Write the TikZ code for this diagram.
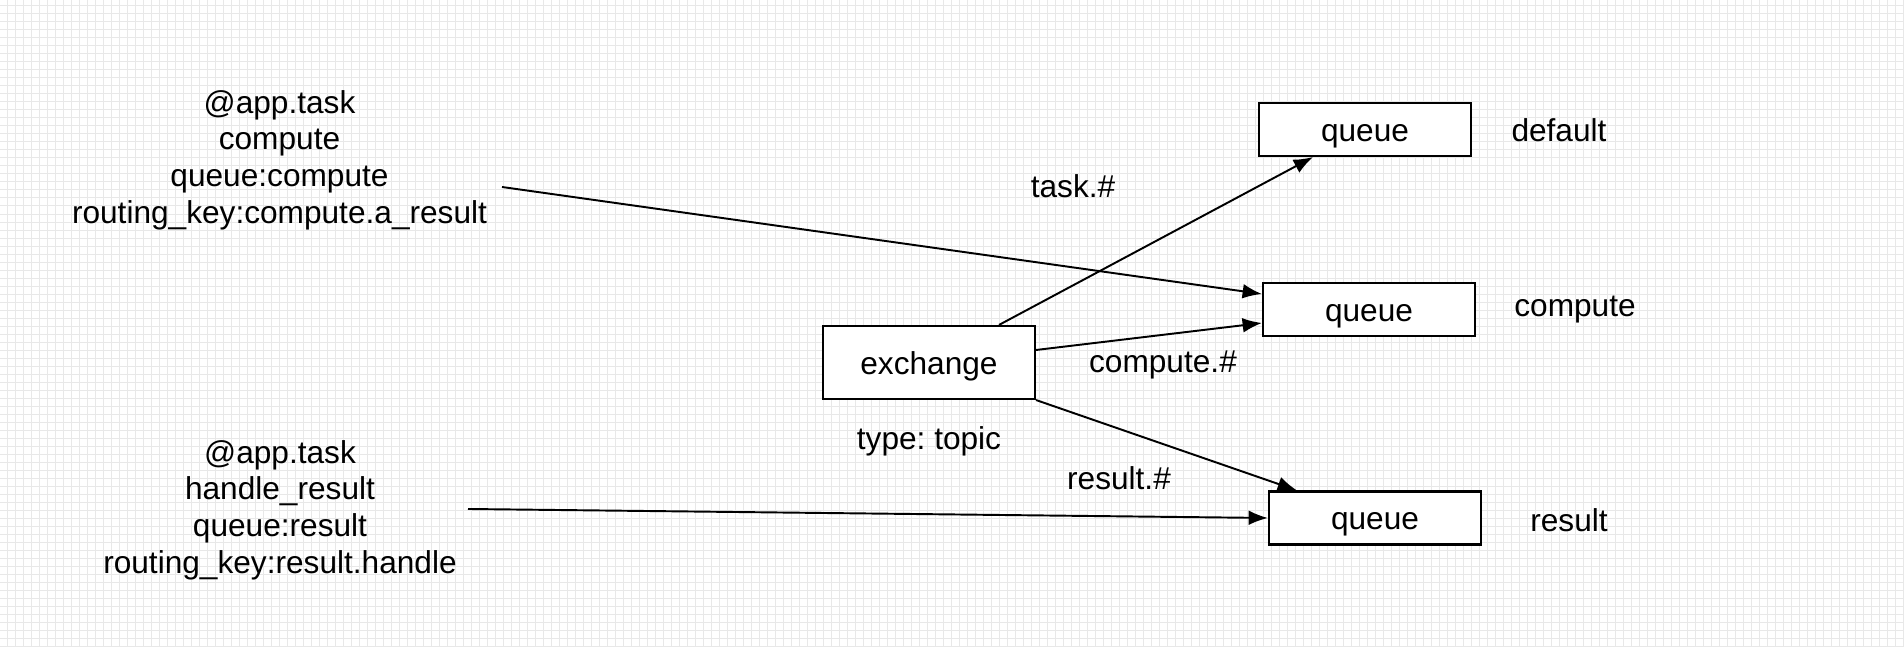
\documentclass[tikz,border=0pt]{standalone}
\usepackage{fontspec}
\setmainfont{Liberation Sans}
\usetikzlibrary{arrows.meta}
\definecolor{gridgray}{RGB}{232,232,232}
\tikzset{
  qbox/.style={draw,line width=0.6pt,fill=white,inner sep=0pt,minimum width=2.12cm,
    minimum height=0.53cm,text height=0.86em,text depth=0.2em},
  lbl/.style={anchor=base,inner sep=0pt},
  link/.style={line width=0.55pt,-{Latex[length=5.5pt,width=4.2pt]}}
}
\begin{document}
\begin{tikzpicture}[font=\fontsize{9}{10.45}\selectfont]
\frenchspacing
\useasboundingbox (0,0) rectangle (19.04,6.47);
% --- background grid ---
\fill[white] (0,0) rectangle (19.04,6.47);
\foreach \i in {0,...,237} \draw[gridgray,line width=0.28pt] (0.07+0.08*\i,0) -- (0.07+0.08*\i,6.47);
\foreach \j in {0,...,80} \draw[gridgray,line width=0.28pt] (0,6.41-0.08*\j) -- (19.04,6.41-0.08*\j);
% --- tasks ---
\node[align=center,inner sep=0pt] (task1) at (2.795,4.87) {@app.task\\compute\\queue:compute\\routing\_key:compute.a\_result};
\node[align=center,inner sep=0pt] (task2) at (2.80,1.37) {@app.task\\handle\_result\\queue:result\\routing\_key:result.handle};
\coordinate (c1) at (5.02,4.60);
\coordinate (c2) at (4.68,1.38);
% --- exchange and queues ---
\node[qbox,minimum height=0.73cm] (exch) at (9.29,2.845) {exchange};
\node[qbox] (qdef) at (13.65,5.175) {queue};
\node[qbox] (qcomp) at (13.69,3.375) {queue};
\node[qbox] (qres) at (13.75,1.29) {queue};
% --- queue names ---
\node[lbl] (ndef) at (15.59,5.05) {default};
\node[lbl] (ncomp) at (15.75,3.30) {compute};
\node[lbl] (nres) at (15.69,1.15) {result};
% --- bindings ---
\node[lbl] (ktask) at (10.73,4.49) {task.\#};
\node[lbl] (kcomp) at (11.63,2.74) {compute.\#};
\node[lbl] (kres) at (11.19,1.57) {result.\#};
\node[lbl] (etype) at (9.29,1.97) {type: topic};
% --- arrows ---
\draw[link] (c1) -- ([yshift=0.155cm]qcomp.west);
\draw[link] (c2) -- (qres.west);
\draw[link] ([xshift=0.70cm]exch.north) -- ([xshift=-0.52cm]qdef.south);
\draw[link] ([yshift=0.125cm]exch.east) -- ([yshift=-0.135cm]qcomp.west);
\draw[link] (exch.south east) -- ([xshift=-0.78cm]qres.north);
\end{tikzpicture}
\end{document}
